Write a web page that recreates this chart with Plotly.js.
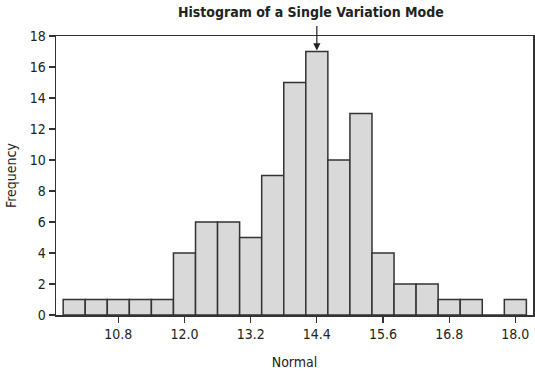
<!DOCTYPE html>
<html>
<head>
<meta charset="utf-8">
<script src="https://cdn.plot.ly/plotly-3.0.1.min.js"></script>
<style>html,body{margin:0;padding:0;background:#fff;}#chart{width:535px;height:372px;}</style>
</head>
<body>
<div id="chart"></div>
<script>
// Bin centres (width 0.4) and frequencies
const binCenters = [10.0, 10.4, 10.8, 11.2, 11.6, 12.0, 12.4, 12.8, 13.2, 13.6, 14.0, 14.4, 14.8, 15.2, 15.6, 16.0, 16.4, 16.8, 17.2, 17.6, 18.0];
const counts     = [1, 1, 1, 1, 1, 4, 6, 6, 5, 9, 15, 17, 10, 13, 4, 2, 2, 1, 1, 0, 1];
const binWidth = 0.4;
const xTicks = [10.8, 12.0, 13.2, 14.4, 15.6, 16.8, 18.0];
const xTickText = ["10.8", "12.0", "13.2", "14.4", "15.6", "16.8", "18.0"];
const yTicks = [0, 2, 4, 6, 8, 10, 12, 14, 16, 18];
const modeX = 14.4;
const modeCount = 17;

const FONT = "DejaVu Sans Condensed, Liberation Sans Narrow, sans-serif";

const trace = {
  type: 'bar',
  x: binCenters,
  y: counts,
  width: binCenters.map(() => binWidth),
  marker: {color: '#d9d9d9', line: {color: '#333333', width: 1.5}},
  hoverinfo: 'none'
};

const layout = {
  width: 535, height: 372,
  margin: {l: 56, r: 2, t: 36, b: 57},
  paper_bgcolor: '#ffffff', plot_bgcolor: '#ffffff',
  showlegend: false,
  font: {family: FONT, size: 14, color: '#222222'},
  title: {
    text: '<b>Histogram of a Single Variation Mode</b>',
    font: {family: FONT, size: 14, color: '#222222'},
    xref: 'container', yref: 'container',
    x: 0.581, xanchor: 'center', y: 0.968, yanchor: 'middle'
  },
  xaxis: {
    range: [9.67, 18.32],
    tickmode: 'array', tickvals: xTicks, ticktext: xTickText,
    ticks: 'outside', ticklen: 6, tickcolor: '#333333', tickwidth: 1.2,
    showline: true, mirror: true, linecolor: '#333333', linewidth: 1.5,
    showgrid: false, zeroline: false,
    tickfont: {family: FONT, size: 14, color: '#222222'},
    title: {text: 'Normal', font: {family: FONT, size: 14, color: '#222222'}, standoff: 16}
  },
  yaxis: {
    range: [0, 18],
    tickmode: 'array', tickvals: yTicks,
    ticks: 'outside', ticklen: 6, tickcolor: '#333333', tickwidth: 1.2,
    showline: true, mirror: true, linecolor: '#333333', linewidth: 1.5,
    showgrid: false, zeroline: false,
    tickfont: {family: FONT, size: 14, color: '#222222'},
    title: {text: 'Frequency', font: {family: FONT, size: 14, color: '#222222'}, standoff: 10}
  },
  annotations: [{
    x: modeX, y: modeCount, xref: 'x', yref: 'y',
    text: '', showarrow: true,
    ax: 0, ay: -27, arrowhead: 2, arrowsize: 1.2, arrowwidth: 1.2, arrowcolor: '#222222',
    standoff: 1
  }],
  bargap: 0
};

Plotly.newPlot('chart', [trace], layout, {staticPlot: true, displayModeBar: false});
</script>
</body>
</html>
